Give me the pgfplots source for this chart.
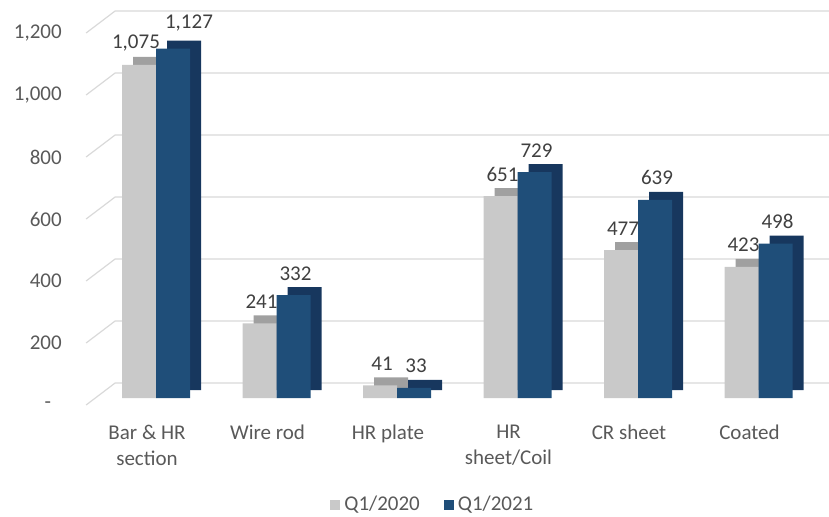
\documentclass[border=0pt]{standalone}
\usepackage{fontspec}
\setmainfont{Carlito}
\usepackage{pgfplots}
\pgfplotsset{compat=1.18}
\usepackage{pgfplotstable}
\definecolor{grayfront}{HTML}{C9C9C9}
\definecolor{graytop}{HTML}{A0A0A0}
\definecolor{bluefront}{HTML}{1F4E79}
\definecolor{blueside}{HTML}{17375E}
\definecolor{gridc}{HTML}{D9D9D9}
\definecolor{txt}{HTML}{595959}
\definecolor{lbl}{HTML}{404040}

\pgfplotstableread{
x y dx dy
0 1075 -10 0.5
1 241 -7.5 0
2 41 -7.5 0
3 651 -7.5 0
4 477 -7.5 0
5 423 -7.5 0
}\qa
\pgfplotstableread{
x y dx dy
0 1127 16.5 2.5
1 332 9.5 0
2 33 9.5 0
3 729 9.5 0
4 639 9.5 0
5 498 9.5 0
}\qb

\begin{document}
\begin{tikzpicture}
\useasboundingbox (0,0) rectangle (414.5pt,258pt);
\begin{axis}[
 at={(78pt,59pt)}, anchor=origin,
 x=60.25pt, y=0.155pt,
 xmin=-0.58, xmax=5.6, ymin=0, ymax=1200,
 clip=false,
 axis line style={draw=none},
 tick style={draw=none},
 /pgf/number format/assume math mode=true,
 ytick={0,200,...,1200},
 yticklabels={-\hphantom{0},200,400,600,800,{1,000},{1,200}},
 yticklabel style={anchor=east, inner sep=0pt, xshift=-12pt, yshift=-3.5pt, font=\fontsize{10.5}{12}\selectfont, text=txt},
 xtick={0,...,5},
 xticklabels={{Bar \& HR\\section},Wire rod,HR plate,{HR\\sheet/Coil},CR sheet,Coated},
 xticklabel style={anchor=north, inner sep=0pt, yshift=-13.5pt, xshift=-4.5pt, align=center, font=\fontsize{10.5}{13}\selectfont, text=txt},
 legend columns=2,
 legend style={draw=none, fill=none, at={(0.467,-0.288)}, anchor=center, font=\fontsize{10.5}{12}\selectfont, text=txt, /tikz/every even column/.append style={column sep=10pt}},
 legend image code/.code={\fill[#1] (0pt,-2.5pt) rectangle (5pt,2.5pt);},
 visualization depends on={\thisrow{dx} \as \dx},
 visualization depends on={\thisrow{dy} \as \dy},
 every node near coord/.append style={anchor=base, inner sep=0pt, xshift=\dx pt, yshift=7.5pt+\dy pt, font=\fontsize{10.5}{12}\selectfont, text=lbl},
]
\pgfplotsinvokeforeach{0,200,...,1200}{
 \draw[gridc, line width=0.6pt] ([yshift=-3.5pt]axis cs:-0.58,#1) -- ([xshift=14.5pt,yshift=7.5pt]axis cs:-0.58,#1) -- ([yshift=7.5pt]axis cs:5.6,#1);
}
\addplot[ybar, bar width=17pt, bar shift=-8.5pt, fill=graytop, draw=none, forget plot, xshift=5.5pt, yshift=4pt] table[x=x,y=y]{\qa};
\addplot[ybar, bar width=17pt, bar shift=-8.5pt, fill=grayfront, draw=none, nodes near coords={\pgfmathprintnumber[1000 sep={,},assume math mode=true]{\pgfplotspointmeta}}] table[x=x,y=y]{\qa};
\addlegendentry{Q1/2020}
\addplot[ybar, bar width=17pt, bar shift=8.5pt, fill=blueside, draw=none, forget plot, xshift=5.5pt, yshift=4pt] table[x=x,y=y]{\qb};
\addplot[ybar, bar width=17pt, bar shift=8.5pt, fill=bluefront, draw=none, nodes near coords={\pgfmathprintnumber[1000 sep={,},assume math mode=true]{\pgfplotspointmeta}}] table[x=x,y=y]{\qb};
\addlegendentry{Q1/2021}
\end{axis}
\end{tikzpicture}
\end{document}
